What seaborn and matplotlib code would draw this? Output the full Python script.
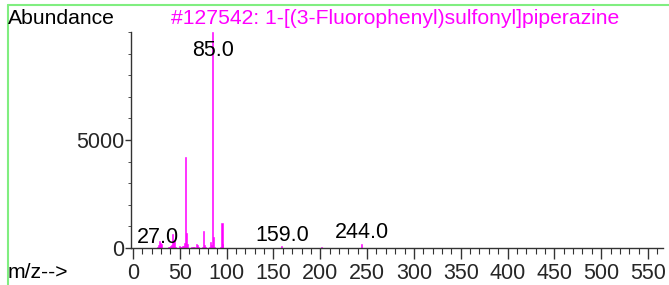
import numpy as np
import pandas as pd
import matplotlib
matplotlib.use("Agg")
import matplotlib.pyplot as plt
import seaborn as sns
from matplotlib.ticker import MultipleLocator, FixedLocator

# spectrum peaks (m/z, abundance)
MZ = [26, 27, 28, 29, 30, 38, 39, 40, 41, 42, 43, 44, 45, 50, 51, 52, 53, 54, 55, 56,
      57, 58, 63, 65, 66, 68, 69, 70, 74, 75, 76, 77, 82, 83, 84, 85, 86, 87, 94, 95,
      96, 101, 108, 111, 114, 121, 139, 159, 175, 201, 244]
ABUND = [40, 150, 340, 230, 200, 30, 60, 110, 120, 650, 380, 300, 40, 100, 60, 30, 110, 90, 240, 4200,
         680, 160, 40, 60, 30, 170, 130, 40, 50, 790, 120, 40, 30, 260, 150, 9999, 520, 60, 40, 1170,
         170, 20, 20, 20, 15, 20, 15, 100, 15, 35, 180]
PEAK_LABELS = [27.0, 85.0, 159.0, 244.0]
LABEL_Y = [230, 8900, 320, 450]

TITLE = "#127542: 1-[(3-Fluorophenyl)sulfonyl]piperazine"
MAGENTA = "#ff00ff"

sns.set_style("white")
plt.rcParams["font.family"] = ["Liberation Sans", "DejaVu Sans"]

df = pd.DataFrame({"mz": MZ, "abundance": ABUND})

fig = plt.figure(figsize=(6.69, 2.85), dpi=100)
ax = fig.add_axes([0.196, 0.130, 0.795, 0.758])

sns.barplot(data=df, x="mz", y="abundance", native_scale=True, orient="x",
            color=MAGENTA, saturation=1, width=1.3, edgecolor=MAGENTA,
            linewidth=0.4, errorbar=None, ax=ax)

ax.set_xlim(-2, 566)
ax.set_ylim(0, 10000)
ax.xaxis.set_major_locator(MultipleLocator(50))
ax.xaxis.set_minor_locator(MultipleLocator(10))
ax.yaxis.set_major_locator(FixedLocator([0, 5000]))
ax.yaxis.set_minor_locator(MultipleLocator(1000))
ax.set_yticklabels(["0", "5000"])
ax.tick_params(axis="x", which="major", length=8, width=1, color="#333333",
               labelsize=15.5, pad=3, direction="out", bottom=True)
ax.tick_params(axis="x", which="minor", length=4, width=0.8, color="#333333",
               direction="out", bottom=True)
ax.tick_params(axis="y", which="major", length=4, width=1, color="#333333",
               labelsize=15.5, pad=1, direction="out", left=True)
ax.tick_params(axis="y", which="minor", length=2, width=0.6, color="#333333",
               direction="out", left=True)
ax.set_xlabel("")
ax.set_ylabel("")
sns.despine(ax=ax)
for side in ["left", "bottom"]:
    ax.spines[side].set_color("#333333")
    ax.spines[side].set_linewidth(1)

for mz, ly in zip(PEAK_LABELS, LABEL_Y):
    ax.text(mz, ly, f"{mz:.1f}", ha="center", va="baseline", fontsize=15.5, color="black")

fig.text(0.012, 0.90, "Abundance", fontsize=15.2, color="black", va="bottom")
fig.text(0.59, 0.90, TITLE, fontsize=15.2, color=MAGENTA, ha="center", va="bottom")
fig.text(0.012, 0.01, "m/z-->", fontsize=15.2, color="black", va="bottom")

# light green frame lines (top and left)
fig.add_artist(plt.Line2D([0.012, 1.0], [0.982, 0.982], color="#80ee80", lw=1.5,
                          transform=fig.transFigure))
fig.add_artist(plt.Line2D([0.012, 0.012], [0.0, 0.982], color="#80ee80", lw=1.5,
                          transform=fig.transFigure))

fig.savefig("out.png", dpi=100)
